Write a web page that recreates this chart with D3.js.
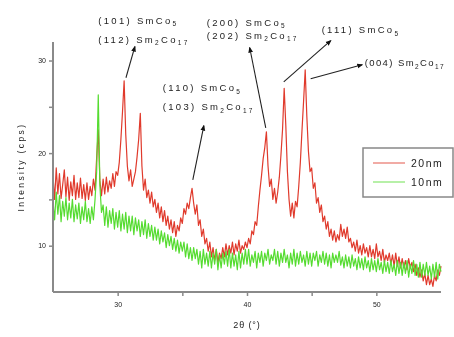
<!DOCTYPE html>
<html>
<head>
<meta charset="utf-8">
<script src="https://cdn.jsdelivr.net/npm/d3@7"></script>
<style>
  html, body { margin: 0; padding: 0; background: #fff; }
  svg { display: block; filter: blur(0.45px); }
  text { font-family: "Liberation Sans", Arial, sans-serif; fill: #222; }
</style>
</head>
<body>
<svg id="chart" width="454" height="337"></svg>
<script>
// 2θ sampling grid (degrees), one row per degree
const twoTheta = [
  25, 25.125, 25.25, 25.375, 25.5, 25.625, 25.75, 25.875,
  26, 26.125, 26.25, 26.375, 26.5, 26.625, 26.75, 26.875,
  27, 27.125, 27.25, 27.375, 27.5, 27.625, 27.75, 27.875,
  28, 28.125, 28.25, 28.375, 28.5, 28.625, 28.75, 28.875,
  29, 29.125, 29.25, 29.375, 29.5, 29.625, 29.75, 29.875,
  30, 30.125, 30.25, 30.375, 30.5, 30.625, 30.75, 30.875,
  31, 31.125, 31.25, 31.375, 31.5, 31.625, 31.75, 31.875,
  32, 32.125, 32.25, 32.375, 32.5, 32.625, 32.75, 32.875,
  33, 33.125, 33.25, 33.375, 33.5, 33.625, 33.75, 33.875,
  34, 34.125, 34.25, 34.375, 34.5, 34.625, 34.75, 34.875,
  35, 35.125, 35.25, 35.375, 35.5, 35.625, 35.75, 35.875,
  36, 36.125, 36.25, 36.375, 36.5, 36.625, 36.75, 36.875,
  37, 37.125, 37.25, 37.375, 37.5, 37.625, 37.75, 37.875,
  38, 38.125, 38.25, 38.375, 38.5, 38.625, 38.75, 38.875,
  39, 39.125, 39.25, 39.375, 39.5, 39.625, 39.75, 39.875,
  40, 40.125, 40.25, 40.375, 40.5, 40.625, 40.75, 40.875,
  41, 41.125, 41.25, 41.375, 41.5, 41.625, 41.75, 41.875,
  42, 42.125, 42.25, 42.375, 42.5, 42.625, 42.75, 42.875,
  43, 43.125, 43.25, 43.375, 43.5, 43.625, 43.75, 43.875,
  44, 44.125, 44.25, 44.375, 44.5, 44.625, 44.75, 44.875,
  45, 45.125, 45.25, 45.375, 45.5, 45.625, 45.75, 45.875,
  46, 46.125, 46.25, 46.375, 46.5, 46.625, 46.75, 46.875,
  47, 47.125, 47.25, 47.375, 47.5, 47.625, 47.75, 47.875,
  48, 48.125, 48.25, 48.375, 48.5, 48.625, 48.75, 48.875,
  49, 49.125, 49.25, 49.375, 49.5, 49.625, 49.75, 49.875,
  50, 50.125, 50.25, 50.375, 50.5, 50.625, 50.75, 50.875,
  51, 51.125, 51.25, 51.375, 51.5, 51.625, 51.75, 51.875,
  52, 52.125, 52.25, 52.375, 52.5, 52.625, 52.75, 52.875,
  53, 53.125, 53.25, 53.375, 53.5, 53.625, 53.75, 53.875,
  54, 54.125, 54.25, 54.375, 54.5, 54.625, 54.75, 54.875,
  55
];

// intensity (cps), 20 nm film
const intensity20nm = [
  17.5, 15.0, 18.4, 15.6, 17.8, 15.1, 16.6, 18.2,
  15.3, 17.4, 14.9, 16.9, 15.4, 17.6, 15.0, 16.8,
  15.2, 17.3, 15.1, 16.6, 14.9, 16.8, 15.0, 16.4,
  15.4, 17.2, 16.0, 19.5, 22.5, 17.0, 15.4, 17.2,
  15.6, 17.4, 15.8, 17.0, 16.2, 17.8, 16.4, 18.0,
  17.6, 19.0, 21.5, 24.5, 27.8, 22.0, 18.6, 17.0,
  18.2, 16.4, 17.2, 18.0, 19.6, 21.5, 24.3, 18.6,
  16.0, 17.2, 15.2, 16.0, 14.6, 15.8, 14.2, 15.0,
  13.6, 14.6, 13.0, 14.2, 12.6, 13.8, 12.2, 13.2,
  11.8, 12.8, 11.4, 12.6, 11.0, 12.2, 11.6, 13.0,
  12.4, 14.0, 13.4, 14.6, 14.0, 15.2, 16.2, 14.6,
  13.4, 14.4, 12.2, 12.8, 11.0, 11.8, 10.2, 10.8,
  9.4, 10.4, 8.8, 9.8, 8.4, 9.6, 8.2, 9.2,
  8.6, 9.8, 8.8, 10.2, 9.0, 10.0, 9.2, 10.4,
  9.0, 10.2, 9.4, 10.6, 9.2, 10.0, 9.6, 10.4,
  9.8, 10.8, 10.2, 11.6, 11.2, 12.6, 12.2, 14.2,
  16.0, 17.6, 19.4, 20.6, 22.3, 18.6, 16.4, 17.2,
  15.0, 16.2, 14.6, 15.8, 17.4, 19.8, 22.6, 27.0,
  23.0, 18.0, 15.0, 13.2, 14.6, 13.0, 14.8, 14.2,
  16.4, 19.0, 22.4, 25.6, 29.0, 24.0, 20.2, 18.0,
  18.4, 16.2, 16.8, 14.6, 15.2, 13.6, 14.4, 12.6,
  13.2, 11.8, 12.6, 11.0, 11.8, 10.6, 11.6, 10.4,
  11.2, 10.6, 12.3, 11.0, 11.8, 10.8, 12.0, 10.4,
  10.8, 9.8, 10.4, 9.4, 10.6, 9.2, 10.0, 9.0,
  10.2, 9.2, 9.8, 8.8, 10.0, 8.8, 9.6, 8.6,
  10.2, 8.8, 9.4, 8.4, 9.6, 8.2, 9.0, 8.4,
  9.2, 8.0, 9.0, 7.8, 9.2, 7.8, 8.8, 7.6,
  8.6, 7.6, 8.4, 7.4, 8.6, 7.6, 8.2, 7.2,
  8.0, 6.8, 7.6, 6.6, 7.4, 6.2, 7.0, 5.8,
  6.8, 5.8, 6.4, 5.6, 6.8, 6.2, 7.4, 6.8,
  7.8
];

// intensity (cps), 10 nm film
const intensity10nm = [
  14.8, 12.8, 15.8, 13.4, 15.4, 12.6, 14.8, 13.2,
  15.2, 12.8, 14.6, 13.0, 15.0, 12.6, 14.4, 12.9,
  14.6, 12.4, 14.2, 12.8, 14.8, 12.6, 14.0, 12.4,
  14.2, 12.8, 15.0, 18.0, 26.3, 16.5, 13.6, 14.4,
  12.2, 14.2, 12.0, 13.8, 12.4, 14.0, 11.8, 13.6,
  12.0, 13.8, 11.6, 13.4, 11.8, 13.6, 11.4, 13.2,
  11.6, 13.2, 11.2, 13.0, 11.6, 12.8, 11.0, 12.6,
  11.2, 12.8, 10.8, 12.4, 11.0, 12.2, 10.6, 12.0,
  10.6, 11.8, 10.2, 11.6, 10.4, 11.4, 9.8, 11.2,
  10.0, 11.0, 9.6, 10.8, 9.4, 10.6, 9.2, 10.4,
  9.4, 10.4, 8.8, 10.2, 8.6, 9.8, 8.4, 9.8,
  8.6, 9.6, 8.0, 9.4, 7.6, 9.6, 8.0, 9.2,
  7.8, 9.4, 7.6, 9.2, 8.0, 9.6, 7.4, 9.0,
  7.6, 9.2, 8.0, 9.4, 7.8, 9.6, 7.6, 9.2,
  7.8, 9.0, 7.4, 9.4, 7.6, 9.2, 8.0, 9.6,
  8.0, 9.6, 7.8, 9.0, 8.2, 9.4, 7.6, 9.2,
  8.2, 9.4, 7.8, 9.2, 8.4, 9.6, 8.0, 9.0,
  8.4, 9.6, 8.0, 9.4, 7.8, 9.2, 8.2, 9.6,
  8.2, 9.0, 7.6, 9.2, 8.0, 9.6, 7.8, 9.2,
  8.0, 9.4, 8.2, 9.0, 7.8, 9.4, 8.0, 9.2,
  7.8, 9.2, 8.4, 9.4, 7.8, 9.0, 8.2, 9.4,
  8.0, 9.2, 7.8, 9.0, 7.6, 9.2, 8.2, 9.0,
  8.2, 9.4, 7.9, 8.8, 7.6, 9.0, 7.8, 8.8,
  7.6, 9.0, 7.8, 8.6, 7.4, 8.8, 7.6, 8.6,
  7.4, 8.8, 7.6, 8.4, 7.2, 8.6, 7.4, 8.4,
  7.2, 8.6, 7.4, 8.2, 7.0, 8.4, 7.2, 8.2,
  7.0, 8.4, 7.2, 8.0, 6.8, 8.4, 7.0, 8.2,
  6.8, 8.2, 7.0, 8.4, 6.6, 8.0, 7.0, 8.4,
  6.8, 8.0, 6.6, 8.2, 6.6, 8.0, 6.8, 8.2,
  6.8, 7.8, 6.4, 8.0, 6.6, 8.2, 6.4, 8.0,
  7.2
];

const seriesNames = ['20nm', '10nm'];
const xTicks = [30, 40, 50];
const xMinorTicks = [35, 45];
const yTicks = [10, 20, 30];
const yMinorTicks = [15, 25];

// peak labels: [plane, text, sub, text, sub]
const peakLabels = [
  [['(101) ', 'SmCo', '5'], ['(112) ', 'Sm', '2', 'Co', '17']],
  [['(200) ', 'SmCo', '5'], ['(202) ', 'Sm', '2', 'Co', '17']],
  [['(111) ', 'SmCo', '5']],
  [['(004) ', 'Sm', '2', 'Co', '17']],
  [['(110) ', 'SmCo', '5'], ['(103) ', 'Sm', '2', 'Co', '17']]
];

const svg = d3.select('#chart');
const margin = { top: 42, right: 13, bottom: 45, left: 53 };
const W = 454, H = 337;

const x = d3.scaleLinear().domain([25, 55]).range([margin.left, W - margin.right]);
const y = d3.scaleLinear().domain([5, 32]).range([H - margin.bottom, margin.top]);

const colors = { '20nm': '#e03a2c', '10nm': '#55dc30' };

svg.append('defs').append('marker')
  .attr('id', 'arrow')
  .attr('viewBox', '0 0 10 10')
  .attr('refX', 8).attr('refY', 5)
  .attr('markerWidth', 6).attr('markerHeight', 6)
  .attr('markerUnits', 'userSpaceOnUse')
  .attr('orient', 'auto')
  .append('path').attr('d', 'M0,1 L10,5 L0,9 Z').attr('fill', '#111');

// data lines
const line = d3.line().x((d, i) => x(twoTheta[i])).y(d => y(d));
[['20nm', intensity20nm], ['10nm', intensity10nm]].forEach(([name, vals]) => {
  svg.append('path')
    .datum(vals)
    .attr('d', line)
    .attr('fill', 'none')
    .attr('stroke', colors[name])
    .attr('stroke-width', 1.2)
    .attr('stroke-linejoin', 'round');
});

// axes
const axisColor = '#8a8a8a';
const xAxis = svg.append('g')
  .attr('transform', `translate(0,${y(5)})`)
  .call(d3.axisBottom(x).tickValues(xTicks.concat(xMinorTicks)).tickSize(4)
    .tickFormat(d => xTicks.includes(d) ? d : ''));
xAxis.select('.domain').attr('d', `M${x(25)},0H${x(55)}`);
const yAxis = svg.append('g')
  .attr('transform', `translate(${x(25)},0)`)
  .call(d3.axisLeft(y).tickValues(yTicks.concat(yMinorTicks)).tickSize(4)
    .tickFormat(d => yTicks.includes(d) ? d : ''));
yAxis.select('.domain').attr('d', `M0,${y(5)}V${y(32)}`);
[xAxis, yAxis].forEach(a => {
  a.select('.domain').attr('stroke', axisColor).attr('stroke-width', 2);
  a.selectAll('.tick line').attr('stroke', axisColor).attr('stroke-width', 1.5);
  a.selectAll('.tick text').attr('font-size', 7).attr('fill', '#444')
    .attr('font-family', '"Liberation Sans", Arial, sans-serif');
});
xAxis.selectAll('.tick text').attr('dy', '1.2em');

// axis titles
svg.append('text')
  .attr('x', x(40)).attr('y', H - 9)
  .attr('text-anchor', 'middle').attr('font-size', 9).attr('letter-spacing', 0.9)
  .text('2θ (°)');
svg.append('text')
  .attr('transform', `translate(24,${y(18.5)}) rotate(-90)`)
  .attr('text-anchor', 'middle').attr('font-size', 8.5).attr('letter-spacing', 2.4)
  .text('Intensity (cps)');

// peak annotations: label anchor (2θ, cps), line gap, spacing, arrow tail -> head
const annPos = [
  { tx: 28.5, ty: 33.97, gap: 19, ls: 2.3, a: [30.64, 28.14, 31.33, 31.49] },
  { tx: 36.89, ty: 33.76, gap: 13, ls: 2.3, a: [41.45, 22.73, 40.21, 31.38] },
  { tx: 45.77, ty: 32.95, gap: 0, ls: 2.3, a: [42.84, 27.7, 46.47, 32.14] },
  { tx: 49.1, ty: 29.38, gap: 0, ls: 1.4, a: [44.92, 28.03, 48.9, 29.54] },
  { tx: 33.49, ty: 26.68, gap: 19, ls: 2.3, a: [35.81, 17.11, 36.66, 22.95] }
];

peakLabels.forEach((lines, k) => {
  const p = annPos[k];
  lines.forEach((parts, j) => {
    const t = svg.append('text')
      .attr('x', x(p.tx)).attr('y', y(p.ty) + j * p.gap)
      .attr('font-size', 9.5).attr('letter-spacing', p.ls);
    t.append('tspan').text(parts[0]);
    parts.slice(1).forEach((s, m) => {
      const isSub = m % 2 === 1;
      t.append('tspan')
        .attr('font-size', isSub ? 6.5 : 9.5)
        .attr('dy', m === 0 ? 0 : (isSub ? 2.5 : -2.5))
        .text(s);
    });
  });
  svg.append('line')
    .attr('x1', x(p.a[0])).attr('y1', y(p.a[1]))
    .attr('x2', x(p.a[2])).attr('y2', y(p.a[3]))
    .attr('stroke', '#222').attr('stroke-width', 1.1)
    .attr('marker-end', 'url(#arrow)');
});

// legend
const lg = svg.append('g').attr('transform', 'translate(363,148)');
lg.append('rect').attr('width', 90).attr('height', 49)
  .attr('fill', '#fff').attr('stroke', '#888').attr('stroke-width', 1.5);
seriesNames.forEach((name, i) => {
  lg.append('line')
    .attr('x1', 10).attr('x2', 42).attr('y1', 15 + i * 19).attr('y2', 15 + i * 19)
    .attr('stroke', colors[name]).attr('stroke-width', 1.2).attr('opacity', 0.7);
  lg.append('text')
    .attr('x', 48).attr('y', 19 + i * 19)
    .attr('font-size', 10.5).attr('letter-spacing', 1.5).attr('fill', '#333')
    .text(name);
});
</script>
</body>
</html>
